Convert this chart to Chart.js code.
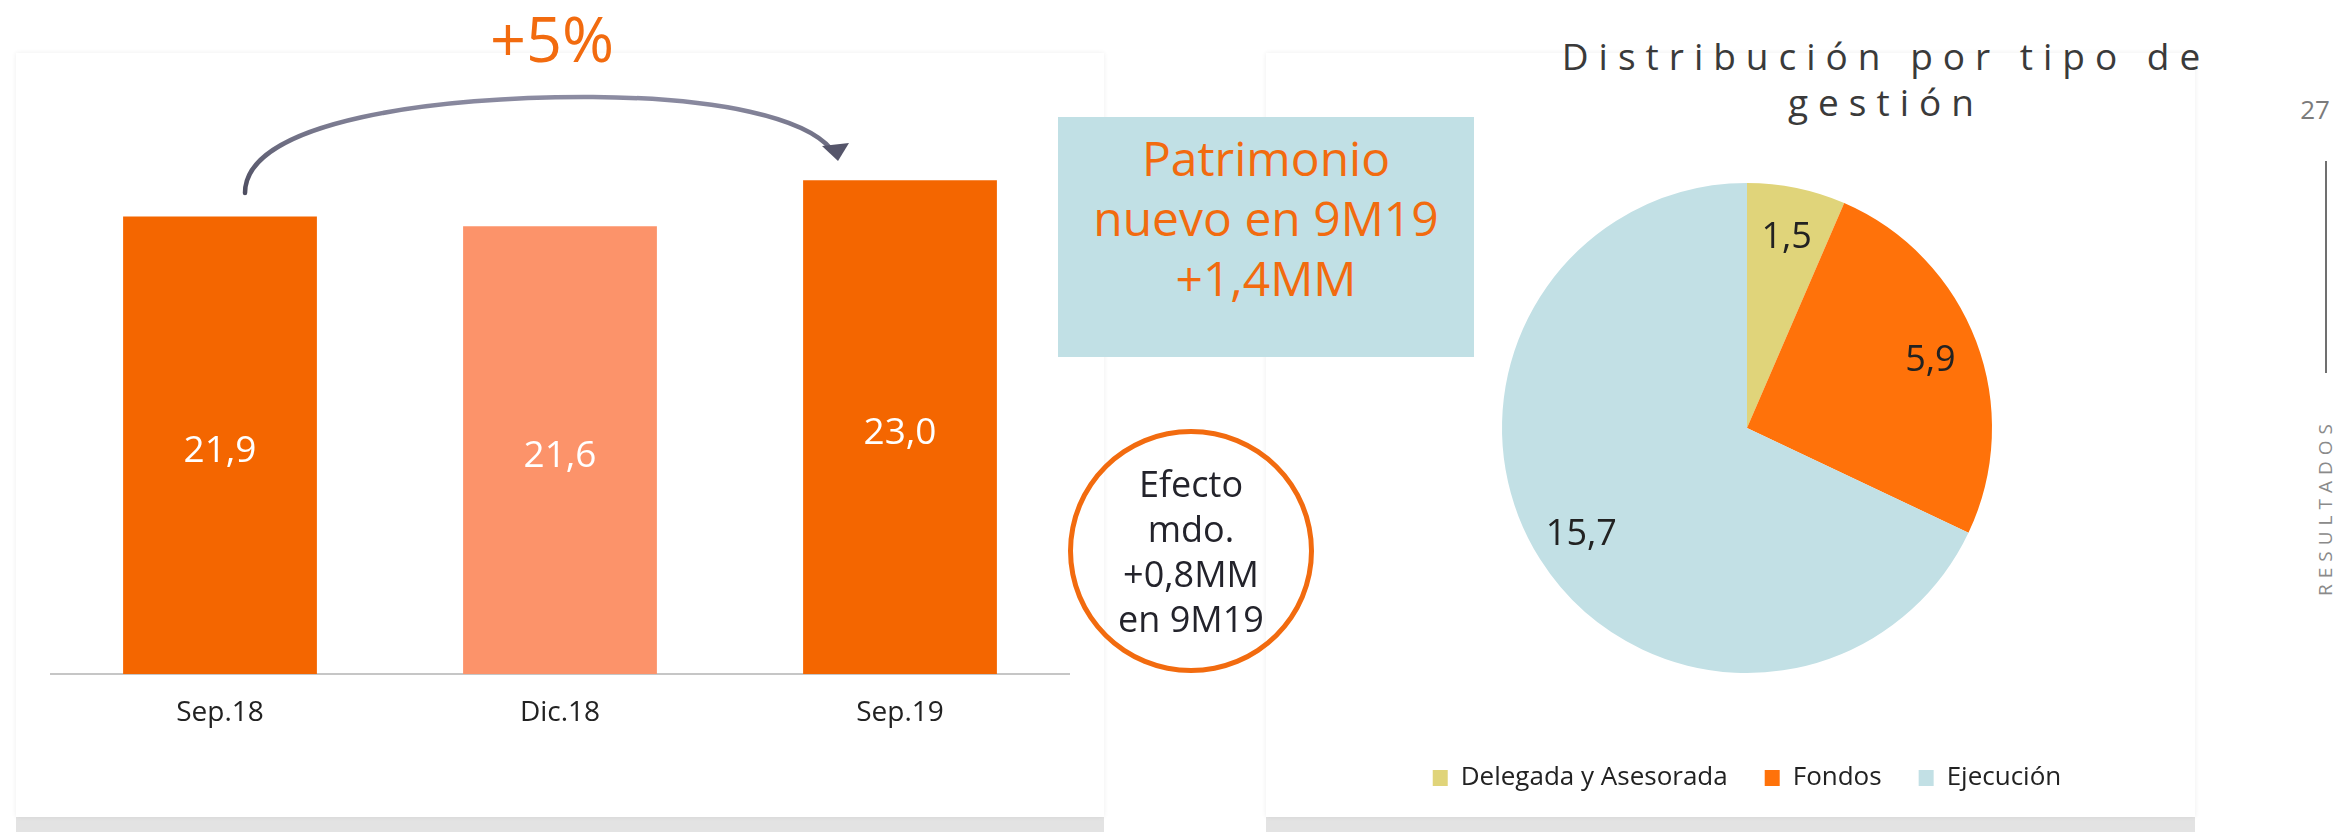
<!DOCTYPE html>
<html>
<head>
<meta charset="utf-8">
<script src="https://cdn.jsdelivr.net/npm/chart.js@4.4.1/dist/chart.umd.min.js"></script>
<style>
  html, body { margin: 0; padding: 0; background: #ffffff; }
  body { width: 2334px; height: 832px; position: relative; overflow: hidden; font-family: "Open Sans", "Noto Sans", sans-serif; }
  .abs { position: absolute; }
  .card { background: #ffffff; box-shadow: 0 0 5px rgba(0,0,0,0.07); }
  .shadow { background: #e3e3e3; }
</style>
</head>
<body>
<script>
// ---- Data ----
const barCategories = ['Sep.18', 'Dic.18', 'Sep.19'];
const barValues = [21.9, 21.6, 23.0];
const barColors = ['#F46600', '#FC936A', '#F46600'];

const pieLabels = ['Delegada y Asesorada', 'Fondos', 'Ejecución'];
const pieValues = [1.5, 5.9, 15.7];
const pieColors = ['#E0D47A', '#FF720A', '#C2E0E5'];

const fmt = v => v.toFixed(1).replace('.', ',');
</script>

<!-- cards -->
<div class="abs shadow" style="left:16px; top:817px; width:1088px; height:15px;"></div>
<div class="abs shadow" style="left:1266px; top:817px; width:929px; height:15px;"></div>
<div class="abs card" style="left:16px; top:53px; width:1088px; height:764px;"></div>
<div class="abs card" style="left:1266px; top:53px; width:929px; height:764px;"></div>

<!-- bar chart -->
<canvas id="bar" class="abs" width="1020" height="660" style="left:50px; top:100px;"></canvas>

<!-- growth annotation -->
<div class="abs" style="left:452px; top:6px; width:200px; text-align:center; font-size:63px; line-height:63px; color:#F26B0F;">+5%</div>
<svg class="abs" style="left:0; top:0;" width="1104" height="300" viewBox="0 0 1104 300">
  <defs>
    <linearGradient id="ag" x1="0" y1="0" x2="0" y2="1">
      <stop offset="0" stop-color="#8c8ca2"/>
      <stop offset="1" stop-color="#4d4d60"/>
    </linearGradient>
  </defs>
  <path d="M245,193 C245,120 440,96 593,97 C720,98 805,118 831,149" fill="none" stroke="url(#ag)" stroke-width="4.5" stroke-linecap="round"/>
  <path d="M822,146 L849,143 L838,161 Z" fill="#55556a"/>
</svg>

<!-- blue box -->
<div class="abs" style="left:1058px; top:117px; width:416px; height:240px; background:#C1E0E5;"></div>
<div class="abs" style="left:1058px; top:128px; width:416px; text-align:center; font-size:48px; line-height:60px; color:#F26B0F;">Patrimonio<br>nuevo en 9M19<br>+1,4MM</div>

<!-- circle -->
<div class="abs" style="left:1068px; top:429px; width:246px; height:244px; box-sizing:border-box; border:5px solid #F26B0F; border-radius:50%; display:flex; align-items:center; justify-content:center; text-align:center; font-size:36px; line-height:45px; color:#23232b;">
  <div style="margin-top:-1px;">Efecto<br>mdo.<br>+0,8MM<br>en 9M19</div>
</div>

<!-- pie title -->
<div class="abs" style="left:1481px; top:33px; width:800px; padding-left:10px; box-sizing:border-box; text-align:center; font-size:37px; line-height:46px; letter-spacing:10px; color:#3a3a3a;">Distribución por tipo de<br>gestión</div>

<!-- pie chart -->
<canvas id="pie" class="abs" width="900" height="700" style="left:1297px; top:128px;"></canvas>

<!-- sidebar -->
<div class="abs" style="left:2285px; top:96px; width:60px; text-align:center; font-size:26px; line-height:26px; color:#7b7b7b;">27</div>
<div class="abs" style="left:2325px; top:161px; width:2px; height:212px; background:#707070;"></div>
<div class="abs" style="left:2325px; top:510px; transform:translate(-50%,-50%) rotate(-90deg); white-space:nowrap; font-size:19px; letter-spacing:6px; padding-left:6px; color:#8a8a8a;">RESULTADOS</div>

<script>
Chart.defaults.font.family = '"Open Sans", "Noto Sans", sans-serif';
Chart.defaults.animation = false;

const barLabelPlugin = {
  id: 'barLabels',
  afterDatasetsDraw(chart) {
    const ctx = chart.ctx;
    const meta = chart.getDatasetMeta(0);
    const bottom = chart.chartArea.bottom;
    ctx.save();
    ctx.fillStyle = '#ffffff';
    ctx.font = '37px "Open Sans", "Noto Sans", sans-serif';
    ctx.textAlign = 'center';
    ctx.textBaseline = 'middle';
    meta.data.forEach((el, i) => {
      const y = (el.y + Math.min(el.base, bottom)) / 2 + 6;
      ctx.fillText(fmt(chart.data.datasets[0].data[i]), el.x, y);
    });
    ctx.restore();
  }
};

new Chart(document.getElementById('bar'), {
  type: 'bar',
  data: {
    labels: barCategories,
    datasets: [{
      data: barValues,
      backgroundColor: barColors,
      borderWidth: 0,
      barPercentage: 0.57,
      categoryPercentage: 1.0
    }]
  },
  options: {
    responsive: false,
    events: [],
    layout: { padding: 0 },
    plugins: { legend: { display: false }, tooltip: { enabled: false } },
    scales: {
      x: {
        grid: { display: false, drawTicks: false },
        border: { display: true, color: '#c6c6c6', width: 2 },
        ticks: { color: '#222222', font: { size: 28 }, padding: 22 },
        afterFit(scale) { scale.height = 86; }
      },
      y: {
        display: false,
        min: 7.95,
        max: 25.45
      }
    }
  },
  plugins: [barLabelPlugin]
});

const pieLabelPlugin = {
  id: 'pieLabels',
  afterDatasetsDraw(chart) {
    const ctx = chart.ctx;
    const meta = chart.getDatasetMeta(0);
    ctx.save();
    ctx.fillStyle = '#222222';
    ctx.font = '36px "Open Sans", "Noto Sans", sans-serif';
    ctx.textAlign = 'center';
    ctx.textBaseline = 'middle';
    meta.data.forEach((el, i) => {
      const mid = (el.startAngle + el.endAngle) / 2;
      const r = el.outerRadius * 0.8;
      const x = el.x + Math.cos(mid) * r;
      const y = el.y + Math.sin(mid) * r + 2;
      ctx.fillText(fmt(chart.data.datasets[0].data[i]), x, y);
    });
    ctx.restore();
  }
};

new Chart(document.getElementById('pie'), {
  type: 'pie',
  data: {
    labels: pieLabels,
    datasets: [{
      data: pieValues,
      backgroundColor: pieColors,
      borderWidth: 0,
      radius: 245
    }]
  },
  options: {
    responsive: false,
    events: [],
    layout: { padding: { top: 0, bottom: 27, left: 0, right: 0 } },
    plugins: {
      tooltip: { enabled: false },
      legend: {
        position: 'bottom',
        labels: {
          color: '#222222',
          font: { size: 26 },
          boxWidth: 15,
          boxHeight: 16,
          padding: 37
        }
      }
    }
  },
  plugins: [pieLabelPlugin]
});
</script>
</body>
</html>
